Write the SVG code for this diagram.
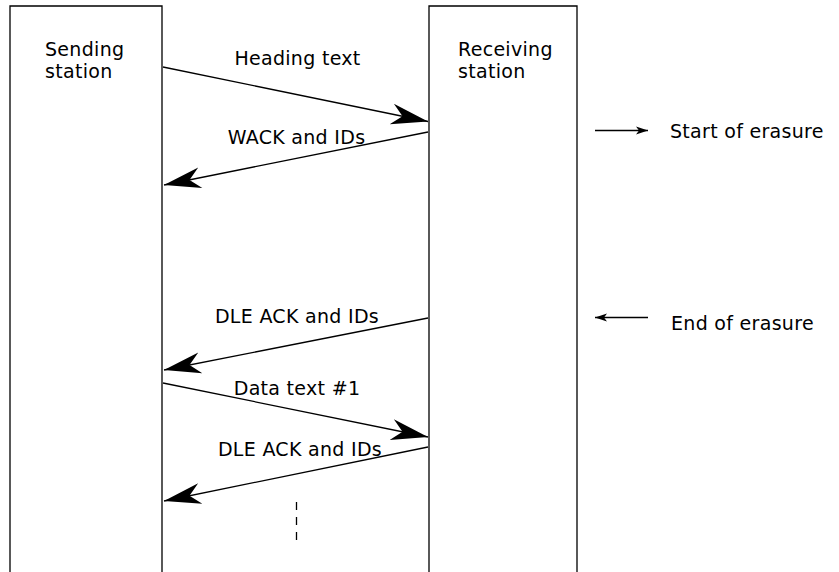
<svg xmlns="http://www.w3.org/2000/svg" width="839" height="572" viewBox="0 0 839 572">
<style>
  text { font-family: "DejaVu Sans", "Noto Sans", sans-serif; font-size: 19px; fill: #000; letter-spacing: 0.3px; }
  .mid { text-anchor: middle; }
  .box { fill: none; stroke: #000; stroke-width: 1.3; }
  .msg { fill: none; stroke: #000; stroke-width: 1.3; marker-end: url(#big); }
  .note { fill: none; stroke: #000; stroke-width: 1.3; marker-end: url(#small); }
  .dash { fill: none; stroke: #000; stroke-width: 1.3; stroke-dasharray: 8 7; }
</style>
<defs>
  <marker id="big" markerUnits="userSpaceOnUse" viewBox="-40 -12 42 24" markerWidth="42" markerHeight="24" refX="0" refY="0" orient="auto">
    <path d="M0,0 L-37,-10.5 L-26,0 L-37,10.5 Z" fill="#000"/>
  </marker>
  <marker id="small" markerUnits="userSpaceOnUse" viewBox="-14 -5 15 10" markerWidth="15" markerHeight="10" refX="0" refY="0" orient="auto">
    <path d="M0,0 L-12,-4 L-9,0 L-12,4 Z" fill="#000"/>
  </marker>
</defs>
<rect width="839" height="572" fill="#fff"/>
<g id="sending">
  <path class="box" d="M10,572 V6 H162 V572"/>
  <text x="45" y="56">Sending</text>
  <text x="45" y="78">station</text>
</g>
<g id="receiving">
  <path class="box" d="M429,572 V6 H577 V572"/>
  <text x="458" y="56">Receiving</text>
  <text x="458" y="78">station</text>
</g>
<g id="connectors">
  <line class="msg" x1="163" y1="67" x2="428" y2="121.5"/>
  <line class="msg" x1="428" y1="132" x2="164" y2="185"/>
  <line class="msg" x1="428" y1="318" x2="164" y2="370"/>
  <line class="msg" x1="163" y1="383" x2="428" y2="437"/>
  <line class="msg" x1="428" y1="447" x2="164" y2="501"/>
  <line class="dash" x1="296.5" y1="502" x2="296.5" y2="543"/>
  <line class="note" x1="595" y1="130.5" x2="648" y2="130.5"/>
  <line class="note" x1="648" y1="317.5" x2="595" y2="317.5"/>
</g>
<g id="labels">
  <text class="mid" x="297.5" y="65">Heading text</text>
  <text class="mid" x="296.5" y="144">WACK and IDs</text>
  <text class="mid" x="297" y="323">DLE ACK and IDs</text>
  <text class="mid" x="297" y="395">Data text #1</text>
  <text class="mid" x="300" y="456">DLE ACK and IDs</text>
  <text x="670" y="138">Start of erasure</text>
  <text x="671" y="330">End of erasure</text>
</g>
</svg>
